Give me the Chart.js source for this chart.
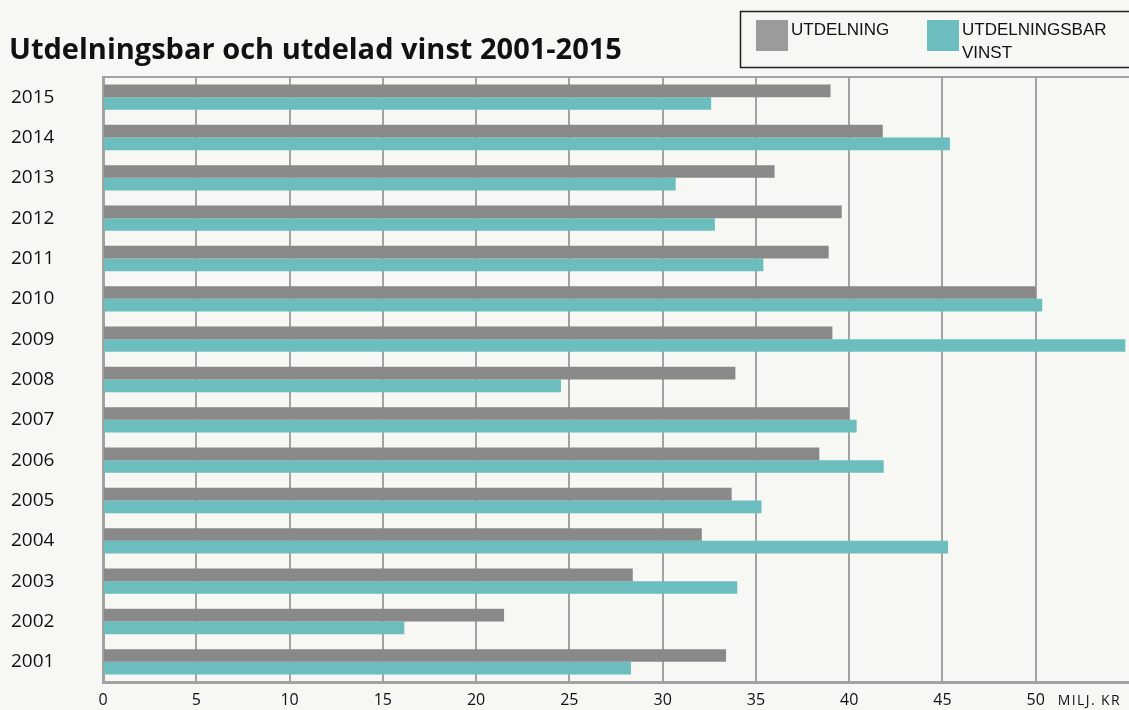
<!DOCTYPE html>
<html>
<head>
<meta charset="utf-8">
<script src="https://cdn.jsdelivr.net/npm/chart.js@4/dist/chart.umd.min.js"></script>
<style>
html,body{margin:0;padding:0;background:#f7f7f3;}
#wrap{position:relative;width:1129px;height:710px;}
</style>
</head>
<body>
<div id="wrap"><canvas id="c" width="1129" height="710"></canvas></div>
<script>
const years = ['2015','2014','2013','2012','2011','2010','2009','2008','2007','2006','2005','2004','2003','2002','2001'];
const utdelning = [39.0, 41.8, 36.0, 39.6, 38.9, 50.0, 39.1, 33.9, 40.0, 38.4, 33.7, 32.1, 28.4, 21.5, 33.4];
const utdelningsbar = [32.6, 45.4, 30.7, 32.8, 35.4, 50.35, 54.8, 24.55, 40.4, 41.85, 35.3, 45.3, 34.0, 16.15, 28.3];
const xTicks = [0,5,10,15,20,25,30,35,40,45,50];
const titleText = 'Utdelningsbar och utdelad vinst 2001-2015';
const unitText = 'MILJ. KR';
const seriesNames = [['UTDELNING'], ['UTDELNINGSBAR','VINST']];

const GRAY = '#898989', TEAL = '#6cbdbd', LINE = '#a3a3a3';
const FONT = 'Open Sans';

const decor = {
  id: 'decor',
  beforeDraw(chart) {
    const ctx = chart.ctx;
    ctx.save();
    ctx.fillStyle = '#f7f7f3';
    ctx.fillRect(0, 0, chart.width, chart.height);
    ctx.restore();
  },
  afterDraw(chart) {
    const ctx = chart.ctx, a = chart.chartArea;
    ctx.save();
    ctx.strokeStyle = LINE; ctx.lineWidth = 2;
    ctx.beginPath(); ctx.moveTo(a.left - 1, a.top); ctx.lineTo(a.right, a.top); ctx.stroke();
    ctx.fillStyle = '#111';
    ctx.font = 'bold 29px "' + FONT + '"';
    ctx.textBaseline = 'alphabetic'; ctx.textAlign = 'left';
    ctx.fillText(titleText, 9, 59);
    ctx.strokeStyle = '#222'; ctx.lineWidth = 1.5;
    ctx.strokeRect(740.5, 11.5, 400, 56);
    const colors = ['#9b9b99', TEAL];
    const sx = [756, 927];
    ctx.font = '17px "Liberation Sans"';
    chart.data.datasets.forEach((ds, i) => {
      ctx.fillStyle = colors[i];
      ctx.fillRect(sx[i], 20, 32, 31);
      ctx.fillStyle = '#111';
      seriesNames[i].forEach((t, j) => ctx.fillText(t, sx[i] + 35, 35 + j * 23));
    });
    const xs = chart.scales.x;
    ctx.font = '14px "' + FONT + '"';
    ctx.fillStyle = '#111';
    ctx.textBaseline = 'middle';
    ctx.fillText(unitText.split('').join(String.fromCharCode(8202)), xs.getPixelForValue(50) + 22, 701);
    ctx.restore();
  }
};

function build() {
  new Chart(document.getElementById('c'), {
    type: 'bar',
    data: {
      labels: years,
      datasets: [
        { label: seriesNames[0].join(' '), data: utdelning, backgroundColor: GRAY },
        { label: seriesNames[1].join(' '), data: utdelningsbar, backgroundColor: TEAL }
      ]
    },
    options: {
      indexAxis: 'y',
      responsive: false,
      animation: false,
      devicePixelRatio: 1,
      layout: { padding: { top: 77, right: 0, left: 11, bottom: 0 } },
      datasets: { bar: { categoryPercentage: 0.63, barPercentage: 1.0 } },
      plugins: { legend: { display: false }, title: { display: false }, tooltip: { enabled: false } },
      scales: {
        x: {
          min: 0, max: 55,
          afterBuildTicks(s) { s.ticks = xTicks.map(v => ({ value: v })); },
          afterFit(s) { s.height = 28; },
          grid: { color: LINE, lineWidth: 2, drawTicks: false, tickLength: 0 },
          border: { color: LINE, width: 3 },
          ticks: { color: '#111', font: { family: FONT, size: 16 }, padding: 9, maxRotation: 0 }
        },
        y: {
          afterFit(s) { s.width = 92; },
          grid: { display: false, drawTicks: false },
          border: { color: LINE, width: 3 },
          ticks: { color: '#111', font: { family: FONT, size: 19 }, crossAlign: 'far', padding: 0 }
        }
      }
    },
    plugins: [decor]
  });
}
Promise.all([
  document.fonts.load('bold 29px "Open Sans"'),
  document.fonts.load('17px "Open Sans"'),
  document.fonts.load('17px "Liberation Sans"')
]).then(build, build);
</script>
</body>
</html>
